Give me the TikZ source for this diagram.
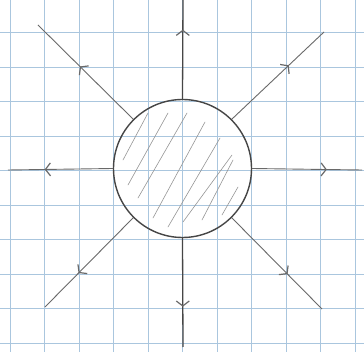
\documentclass[tikz,border=0pt]{standalone}
\usetikzlibrary{arrows.meta,decorations.markings}
\definecolor{gridblue}{RGB}{170,198,222}
\definecolor{penline}{RGB}{105,105,105}
\definecolor{pendark}{RGB}{70,70,70}
\definecolor{hatchgray}{RGB}{150,150,150}
\tikzset{
  gridline/.style={gridblue, line width=0.8pt},
  ray/.style={penline, line width=0.9pt, postaction={decorate},
    decoration={markings, mark=at position #1 with {\arrow[penline, line width=1.2pt]{Straight Barb[length=5pt,width=13pt]}}}},
  hatch/.style={hatchgray, line width=0.6pt, line cap=round},
  blob/.style={draw=pendark, circle, line width=1.4pt, minimum size=138pt, inner sep=0pt}
}
\begin{document}
\begin{tikzpicture}[x=1pt,y=-1pt]
\useasboundingbox (0,0) rectangle (364,352);
\fill[white] (0,0) rectangle (364,352);
\foreach \k in {0,...,10} {
  \draw[gridline] ({10+34.5*\k},0) -- ({10+34.5*\k},352);
}
\foreach \k in {0,...,9} {
  \draw[gridline] (0,{32.5+34.5*\k}) -- (364,{32.5+34.5*\k});
}
\node[blob] (c) at (182.5,168.5) {};
\coordinate (n) at (183,0);
\coordinate (s) at (183,347);
\coordinate (w) at (8,170);
\coordinate (e) at (362,170);
\coordinate (nw) at (38,25);
\coordinate (ne) at (324,32);
\coordinate (sw) at (45,307);
\coordinate (se) at (322,309);
\draw[ray=0.70, line width=1.3pt, pendark] (c.north) -- (n);
\draw[ray=0.63, line width=1.3pt, pendark] (c.south) -- (s);
\draw[ray=0.65] (c.west) -- (w);
\draw[ray=0.68] (c.east) -- (e);
\draw[ray=0.56] (c.135) -- (nw);
\draw[ray=0.62] (c.45) -- (ne);
\draw[ray=0.62] (c.225) -- (sw);
\draw[ray=0.62] (c.315) -- (se);
\draw[hatch] (123,160) -- (148,113);
\draw[hatch] (128,185) -- (168,113);
\draw[hatch] (138,198) -- (187,113);
\draw[hatch] (153,218) -- (205,122);
\draw[hatch] (168,227) -- (220,138);
\draw[hatch] (183,222) -- (232,155);
\draw[hatch] (202,220) -- (233,160);
\draw[hatch] (222,215) -- (238,187);
\end{tikzpicture}
\end{document}
